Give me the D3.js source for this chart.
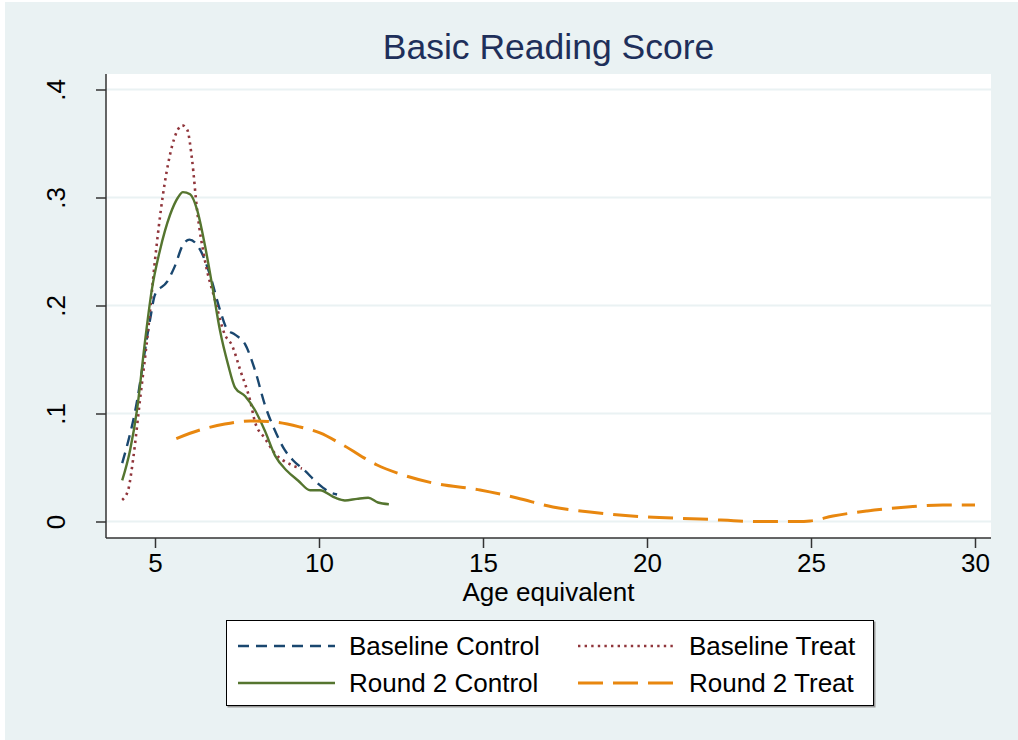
<!DOCTYPE html>
<html>
<head>
<meta charset="utf-8">
<script src="https://cdnjs.cloudflare.com/ajax/libs/d3/7.8.5/d3.min.js"></script>
<style>
  body { margin: 0; background: #fff; }
  svg { display: block; }
  text { font-family: "Liberation Sans", Arial, sans-serif; }
</style>
</head>
<body>
<svg id="chart" width="1018" height="740"></svg>
<script>
// density curves: [age, density]
var baseControl = [[4.0,0.054],[4.4,0.103],[4.85,0.187],[5.0,0.21],[5.37,0.222],[5.6,0.236],
  [5.85,0.256],[6.05,0.261],[6.37,0.252],[6.68,0.228],[6.98,0.196],[7.2,0.178],[7.44,0.173],
  [7.75,0.164],[8.05,0.140],[8.35,0.108],[8.66,0.084],[8.96,0.066],[9.2,0.057],[9.57,0.047],
  [9.97,0.035],[10.34,0.027],[10.55,0.025]];
var baseTreat = [[4.0,0.020],[4.18,0.029],[4.33,0.057],[4.54,0.112],[4.79,0.177],[5.0,0.242],
  [5.24,0.302],[5.46,0.340],[5.7,0.363],[5.82,0.367],[5.98,0.363],[6.13,0.335],[6.28,0.289],
  [6.52,0.242],[6.83,0.205],[7.13,0.173],[7.35,0.163],[7.6,0.140],[7.9,0.112],[8.05,0.092],
  [8.35,0.077],[8.66,0.063],[9.12,0.053],[9.48,0.049]];
var r2Control = [[4.0,0.038],[4.24,0.066],[4.45,0.103],[4.7,0.168],[4.9,0.214],[5.15,0.251],
  [5.46,0.284],[5.7,0.300],[5.85,0.305],[6.07,0.303],[6.28,0.289],[6.52,0.256],[6.77,0.214],
  [6.98,0.177],[7.23,0.145],[7.44,0.124],[7.75,0.116],[8.05,0.103],[8.35,0.084],[8.66,0.061],
  [9.02,0.047],[9.36,0.038],[9.73,0.029],[10.03,0.029],[10.49,0.022],[10.79,0.0195],
  [11.16,0.021],[11.5,0.022],[11.8,0.0176],[12.13,0.016]];
var r2Treat = [[5.65,0.0768],[6.37,0.0847],[7.13,0.0903],[7.9,0.0931],[8.66,0.0921],[9.42,0.0875],
  [10.03,0.082],[10.73,0.0708],[11.77,0.0523],[12.47,0.044],[13.48,0.0356],[14.91,0.0292],
  [16.04,0.0218],[17.13,0.0134],[18.26,0.0088],[20.0,0.0042],[21.62,0.0023],[23.45,0.0],
  [24.6,0.0],[24.97,0.0005],[25.67,0.0051],[26.71,0.0097],[27.93,0.0134],[29.02,0.0153],[30.0,0.0153]];

var xTicks = [5, 10, 15, 20, 25, 30];
var yTicks = [0, 0.1, 0.2, 0.3, 0.4];
var yTickLabels = ["0", ".1", ".2", ".3", ".4"];

var series = [
  {name: "Baseline Control", data: baseControl, color: "#1a476f", dash: "11,7", w: 2.4},
  {name: "Baseline Treat", data: baseTreat, color: "#90353b", dash: "2.4,4.2", w: 2.6},
  {name: "Round 2 Control", data: r2Control, color: "#55752f", dash: null, w: 2.4},
  {name: "Round 2 Treat", data: r2Treat, color: "#e8870f", dash: "25,10", w: 3}
];

var svg = d3.select("#chart");
var bg = "#eaf2f3";
var pLeft = 106, pRight = 991, pTop = 74, pBottom = 538;
var fontSize = 26;

svg.append("rect").attr("x", 5).attr("y", 2).attr("width", 1013).attr("height", 738).attr("fill", bg);
svg.append("rect").attr("x", pLeft).attr("y", pTop).attr("width", pRight - pLeft).attr("height", pBottom - pTop).attr("fill", "#fff");

var x = d3.scaleLinear().domain([5, 30]).range([155, 975]);
var y = d3.scaleLinear().domain([0, 0.4]).range([521.5, 89.5]);

// gridlines
svg.append("g").selectAll("line").data(yTicks).enter().append("line")
  .attr("x1", pLeft).attr("x2", pRight)
  .attr("y1", function (d) { return y(d); }).attr("y2", function (d) { return y(d); })
  .attr("stroke", bg).attr("stroke-width", 1.8);

var line = d3.line()
  .x(function (d) { return x(d[0]); })
  .y(function (d) { return y(d[1]); })
  .curve(d3.curveMonotoneX);

svg.append("g").selectAll("path").data(series).enter().append("path")
  .attr("d", function (d) { return line(d.data); })
  .attr("fill", "none")
  .attr("stroke", function (d) { return d.color; })
  .attr("stroke-width", function (d) { return d.w; })
  .attr("stroke-dasharray", function (d) { return d.dash; });

// axes
var xAxis = d3.axisBottom(x).tickValues(xTicks).tickSize(10).tickPadding(6).tickSizeOuter(0);
var gx = svg.append("g").attr("transform", "translate(0," + pBottom + ")").call(xAxis);
gx.select(".domain").attr("d", "M" + pLeft + ",0H" + pRight).attr("stroke", "#333").attr("stroke-width", 1.5);
gx.selectAll(".tick line").attr("stroke", "#333").attr("stroke-width", 1.5);
gx.selectAll(".tick text").attr("font-size", fontSize).attr("fill", "#000")
  .attr("font-family", "Liberation Sans, Arial, sans-serif").attr("dy", "0.71em");

var yAxis = d3.axisLeft(y).tickValues(yTicks).tickSize(10).tickSizeOuter(0)
  .tickFormat(function (d, i) { return yTickLabels[i]; });
var gy = svg.append("g").attr("transform", "translate(" + pLeft + ",0)").call(yAxis);
gy.select(".domain").attr("d", "M0," + pTop + "V" + pBottom).attr("stroke", "#333").attr("stroke-width", 1.5);
gy.selectAll(".tick line").attr("stroke", "#333").attr("stroke-width", 1.5);
gy.selectAll(".tick text")
  .attr("font-size", fontSize).attr("fill", "#000").attr("font-family", "Liberation Sans, Arial, sans-serif")
  .attr("x", null).attr("dy", null)
  .attr("text-anchor", "middle")
  .attr("transform", "translate(-41,0) rotate(-90)");

// title and axis title
svg.append("text").attr("x", (pLeft + pRight) / 2).attr("y", 59)
  .attr("text-anchor", "middle").attr("font-size", 35.5).attr("fill", "#1e2f5a")
  .text("Basic Reading Score");
svg.append("text").attr("x", (pLeft + pRight) / 2).attr("y", 601)
  .attr("text-anchor", "middle").attr("font-size", fontSize).attr("fill", "#000")
  .text("Age equivalent");

// legend
var lg = svg.append("g");
lg.append("rect").attr("x", 227.5).attr("y", 621.5).attr("width", 648).attr("height", 86).attr("fill", "#999");
lg.append("rect").attr("x", 226.5).attr("y", 620.5).attr("width", 647).attr("height", 85)
  .attr("fill", "#fff").attr("stroke", "#000").attr("stroke-width", 1);
var cols = [238, 578], rows = [646, 683];
var items = lg.selectAll("g.item").data(series).enter().append("g")
  .attr("transform", function (d, i) { return "translate(" + cols[i % 2] + "," + rows[Math.floor(i / 2)] + ")"; });
items.append("line").attr("x1", 0).attr("x2", 97).attr("y1", 0).attr("y2", 0)
  .attr("stroke", function (d) { return d.color; })
  .attr("stroke-width", function (d) { return d.w; })
  .attr("stroke-dasharray", function (d) { return d.dash; });
items.append("text").attr("x", 111).attr("y", 9).attr("font-size", fontSize).attr("fill", "#000")
  .text(function (d) { return d.name; });
</script>
</body>
</html>
